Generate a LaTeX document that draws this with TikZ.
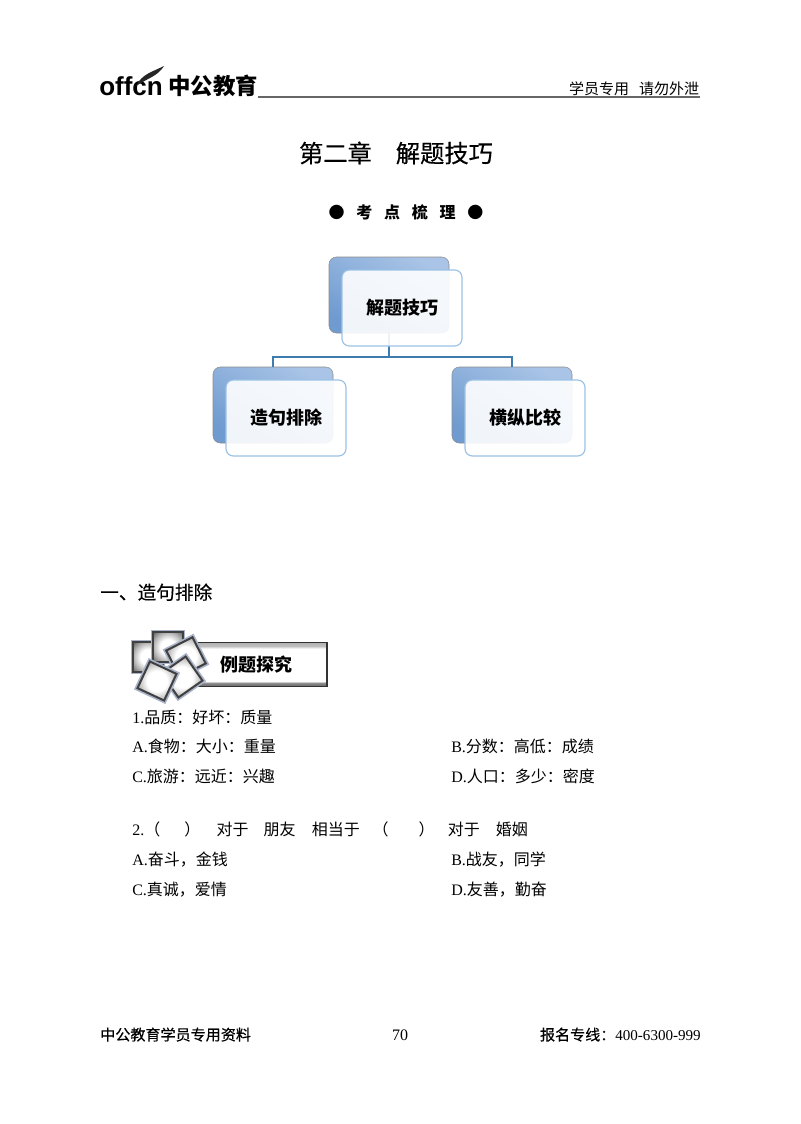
\documentclass[tikz,border=0pt]{standalone}
\usepackage{fontspec}
\setmainfont{Noto Sans CJK SC}
\newfontfamily\midfont[RawFeature={embolden=0.3}]{Noto Sans CJK SC}
\newfontfamily\serifnum{Liberation Serif}
\newfontfamily\logofont{Liberation Sans}
\usetikzlibrary{positioning}
\newcommand{\fs}[1]{\fontsize{#1}{#1}\selectfont}
\pgfdeclareverticalshading{bevel}{100bp}{color(0bp)=(black!60); color(25bp)=(black!60); color(29bp)=(black!45); color(31bp)=(white); color(68bp)=(white); color(71bp)=(black!25); color(75bp)=(black!30); color(100bp)=(black!30)}
\pgfdeclareradialshading{glow}{\pgfpoint{0bp}{0bp}}{color(0bp)=(white); color(13bp)=(white); color(25bp)=(black!30); color(35bp)=(black!60); color(50bp)=(black!60)}
\definecolor{backblue}{HTML}{6F9BD0}
\definecolor{backpale}{HTML}{A9C4E6}
\definecolor{frameblue}{HTML}{9CC2E5}
\definecolor{treeblue}{HTML}{3F7CAE}
\definecolor{squareblue}{HTML}{A9B3C9}
\tikzset{
  backbox/.style={rectangle,rounded corners=5.5pt,draw=black!45,line width=.4pt,
    top color=backpale,bottom color=backblue,shading angle=-30,
    minimum width=90pt,minimum height=57pt},
  frontbox/.style={rectangle,rounded corners=5.5pt,draw=frameblue,line width=.9pt,
    fill=white,fill opacity=.9,text opacity=1,minimum width=90pt,minimum height=57pt,
    font=\fs{13.5pt}\bfseries},
  tree/.style={draw=treeblue,line width=1.4pt},
  line/.style={anchor=west,inner sep=0pt,text height=11.5pt,text depth=2pt,font=\fs{12pt}},
  square/.style={rectangle,draw=black!75,line width=1.5pt,shading=glow,
    preaction={draw=squareblue,line width=4pt},minimum width=22pt,minimum height=22pt,inner sep=0pt},
}
\begin{document}
\begin{tikzpicture}[x=.75pt,y=-.75pt,on grid]
\useasboundingbox (0,0) rectangle (800,1124);
% header
\node[inner sep=0pt,anchor=base west,font=\logofont\fs{19.5pt}\bfseries] (brand) at (99,95.5) {offcn};
\node[inner sep=0pt,anchor=base west,font=\fs{16.8pt}\bfseries] (brandcn) at (168,94.5) {中公教育};
\fill[black!85] (136,86) .. controls (142,74) and (152,72) .. (164,66) .. controls (158,76) and (148,78) .. (136,86);
\node[inner sep=0pt,anchor=base east,font=\fs{11.25pt}] (tag) at (699.5,94.5) {学员专用\hspace{7.5pt}请勿外泄};
\draw[black!60,line width=1.1pt] (brandcn.base east |- 0,97) -- (tag.base east |- 0,97);
% title
\node[inner sep=0pt,font=\midfont\fs{18.2pt}] (title) at (396,153) {第二章\hspace{18pt}解题技巧};
\node[inner sep=0pt,font=\fs{12pt}\bfseries] (points) at (406,212) {●\hspace{8.8pt}考\hspace{8.8pt}点\hspace{8.8pt}梳\hspace{8.8pt}理\hspace{8.8pt}●};
% chart
\node[backbox] (topback) at (389,295) {};
\node[backbox] (leftback) at (273,405) {};
\node[backbox] (rightback) at (512,405) {};
\coordinate (bus) at (389,357);
\draw[tree] (topback.south) -- (bus) -| (leftback.north);
\draw[tree] (bus) -| (rightback.north);
\node[frontbox,below right=9.75pt and 9.75pt of topback] (top) {解题技巧};
\node[frontbox,below right=9.75pt and 9.75pt of leftback] (left) {造句排除};
\node[frontbox,below right=9.75pt and 9.75pt of rightback] (right) {横纵比较};
% section
\node[line,font=\midfont\fs{14pt}] (sec) at (100,593) {一、造句排除};
% banner
\node[rectangle,draw=black!80,line width=1.4pt,shading=bevel,minimum width=106.5pt,minimum height=33pt,
  font=\fs{13.5pt}\bfseries] (banner) at (256,664.5) {例题探究};
\node[square] (sqa) at (148,657) {};
\node[square] (sqb) at (168,647) {};
\node[square,rotate=27] (sqc) at (186,657) {};
\node[square,rotate=35] (sqd) at (182,677) {};
\node[square,rotate=-25] (sqe) at (157,681) {};
% questions
\node[line] (qa) at (132,717) {{\serifnum 1.}品质：好坏：质量};
\node[line] (qaa) at (132,746) {{\serifnum A.}食物：大小：重量};
\node[line] (qab) at (451,746) {{\serifnum B.}分数：高低：成绩};
\node[line] (qac) at (132,776) {{\serifnum C.}旅游：远近：兴趣};
\node[line] (qad) at (451,776) {{\serifnum D.}人口：多少：密度};
\node[line] (qb) at (132,829) {{\serifnum 2.}（\hspace{18pt}）\hspace{12.25pt}对于\hspace{11.25pt}朋友\hspace{12.25pt}相当于\hspace{9.5pt}（\hspace{22.5pt}）\hspace{10pt}对于\hspace{12pt}婚姻};
\node[line] (qba) at (132,859) {{\serifnum A.}奋斗，金钱};
\node[line] (qbb) at (451,859) {{\serifnum B.}战友，同学};
\node[line] (qbc) at (132,889) {{\serifnum C.}真诚，爱情};
\node[line] (qbd) at (451,889) {{\serifnum D.}友善，勤奋};
% footer
\node[line,font=\midfont\fs{11.3pt}] (footl) at (100,1034) {中公教育学员专用资料};
\node[inner sep=0pt,font=\serifnum\fs{12pt}] (page) at (400,1035) {70};
\node[line,anchor=east,font=\midfont\fs{11.3pt}] (footr) at (701,1034) {报名专线：{\serifnum 400-6300-999}};
\end{tikzpicture}
\end{document}
